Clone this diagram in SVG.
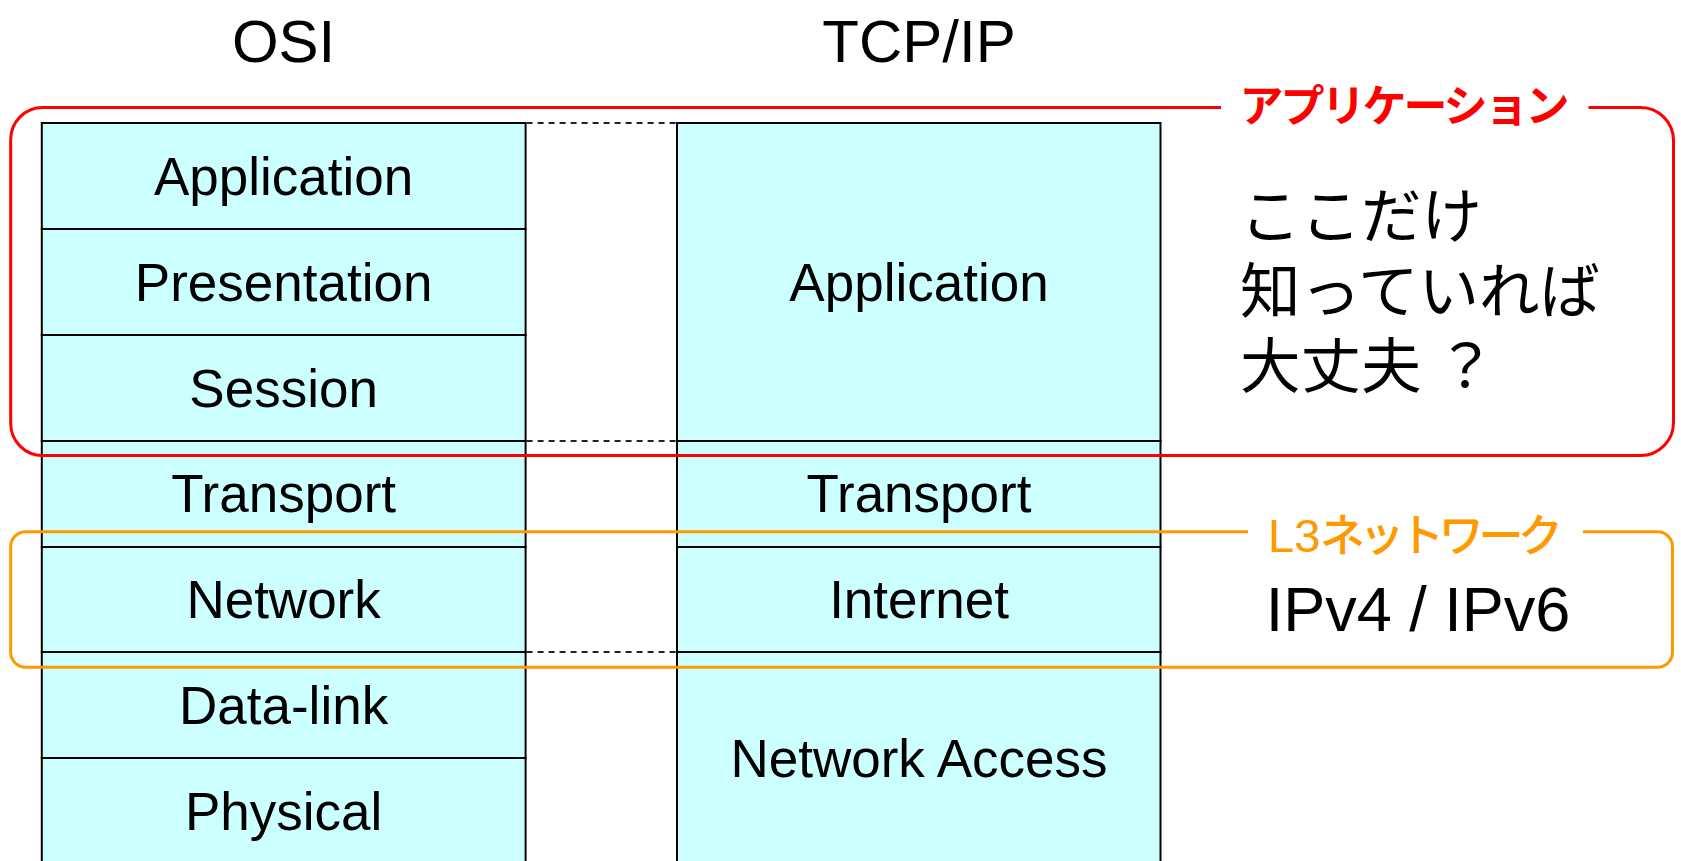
<svg xmlns="http://www.w3.org/2000/svg" width="1681" height="861" viewBox="0 0 1681 861">
  <style>
    .layer rect { fill: #CCFFFF; stroke: #000000; stroke-width: 2; }
    .layer text { font-family: "Liberation Sans", Arial, sans-serif; font-size: 53px; fill: #000000; text-anchor: middle; }
    .title { font-family: "Liberation Sans", Arial, sans-serif; font-size: 60px; fill: #000000; text-anchor: middle; }
    .link { stroke: #222222; stroke-width: 1.8; stroke-dasharray: 6 5; fill: none; }
    .frame { fill: none; stroke-width: 3; }
    .jp { font-family: "Noto Sans CJK JP", "Liberation Sans", sans-serif; }
    .note { font-size: 60.5px; fill: #000000; }
  </style>
  <rect width="1681" height="861" fill="#FFFFFF"/>

  <!-- column headings -->
  <g id="heading-osi"><text class="title" x="283.6" y="62">OSI</text></g>
  <g id="heading-tcpip"><text class="title" x="919" y="62">TCP/IP</text></g>

  <!-- OSI reference model, 7 layers -->
  <g id="osi-application" class="layer"><rect x="41.8" y="123" width="483.8" height="106"/><text x="283.6" y="195">Application</text></g>
  <g id="osi-presentation" class="layer"><rect x="41.8" y="229" width="483.8" height="106"/><text x="283.6" y="301">Presentation</text></g>
  <g id="osi-session" class="layer"><rect x="41.8" y="335" width="483.8" height="106"/><text x="283.6" y="407">Session</text></g>
  <g id="osi-transport" class="layer"><rect x="41.8" y="441" width="483.8" height="106"/><text x="283.6" y="512">Transport</text></g>
  <g id="osi-network" class="layer"><rect x="41.8" y="547" width="483.8" height="105"/><text x="283.6" y="618">Network</text></g>
  <g id="osi-datalink" class="layer"><rect x="41.8" y="652" width="483.8" height="106"/><text x="283.6" y="724">Data-link</text></g>
  <g id="osi-physical" class="layer"><rect x="41.8" y="758" width="483.8" height="108"/><text x="283.6" y="830">Physical</text></g>

  <!-- TCP/IP model, 4 layers -->
  <g id="tcp-application" class="layer"><rect x="677" y="123" width="483.5" height="318"/><text x="919" y="301">Application</text></g>
  <g id="tcp-transport" class="layer"><rect x="677" y="441" width="483.5" height="106"/><text x="919" y="512">Transport</text></g>
  <g id="tcp-internet" class="layer"><rect x="677" y="547" width="483.5" height="105"/><text x="919" y="618">Internet</text></g>
  <g id="tcp-network-access" class="layer"><rect x="677" y="652" width="483.5" height="214"/><text x="919" y="777">Network Access</text></g>

  <!-- dashed correspondence lines between the two stacks -->
  <g id="connectors">
    <line class="link" x1="526.6" y1="123" x2="676" y2="123"/>
    <line class="link" x1="526.6" y1="441" x2="676" y2="441"/>
    <line class="link" x1="526.6" y1="652" x2="676" y2="652"/>
  </g>

  <!-- application-layer grouping -->
  <g id="group-application">
    <path class="frame" stroke="#FF0000" d="M1221,107.5 H42.7 A32,32 0 0 0 10.7,139.5 V423.5 A32,32 0 0 0 42.7,455.5 H1640.5 A33,33 0 0 0 1673.5,422.5 V140.5 A33,33 0 0 0 1640.5,107.5 H1588.5"/>
    <text class="jp" x="1239.5" y="122" font-size="44" font-weight="bold" fill="#FF0000" textLength="330">アプリケーション</text>
    <text class="jp note" x="1240" y="237.5">ここだけ</text>
    <text class="jp note" x="1240" y="312.5">知っていれば</text>
    <text class="jp note" x="1240" y="387.5">大丈夫<tspan dx="14">？</tspan></text>
  </g>

  <!-- network-layer grouping -->
  <g id="group-network">
    <path class="frame" stroke="#FF9900" d="M1248,531.7 H25.7 A15,15 0 0 0 10.7,546.7 V652.3 A15,15 0 0 0 25.7,667.3 H1657.5 A15,15 0 0 0 1672.5,652.3 V546.7 A15,15 0 0 0 1657.5,531.7 H1583"/>
    <text y="552" fill="#FF9900"><tspan x="1268" font-family="Liberation Sans, Arial, sans-serif" font-size="47">L3</tspan><tspan class="jp" x="1320" font-size="45" font-weight="500" textLength="243">ネットワーク</tspan></text>
    <text x="1418" y="631" font-family="Liberation Sans, Arial, sans-serif" font-size="63" fill="#000000" text-anchor="middle">IPv4 / IPv6</text>
  </g>
</svg>
